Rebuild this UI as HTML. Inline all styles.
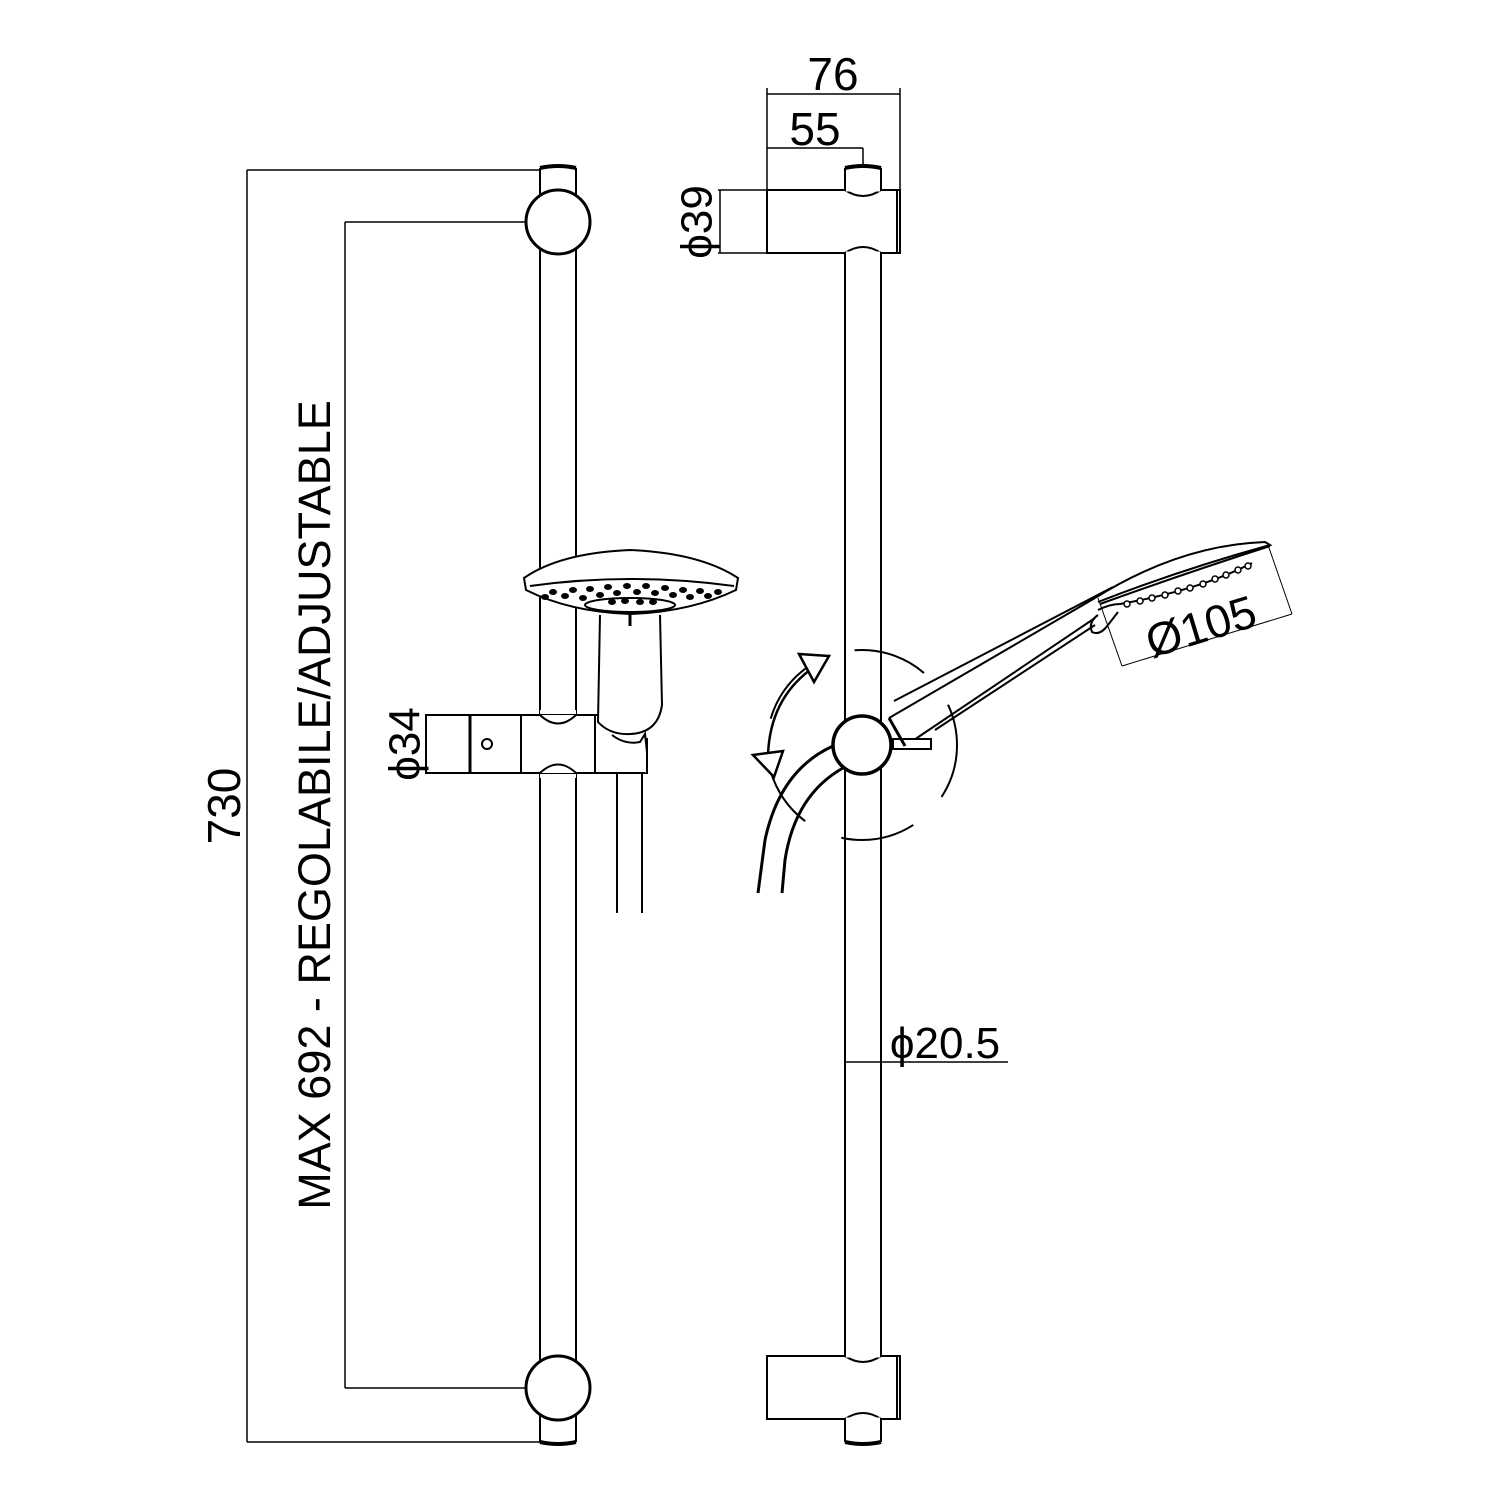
<!DOCTYPE html>
<html><head><meta charset="utf-8"><style>html,body{margin:0;padding:0;background:#fff}svg{display:block}</style></head><body>
<svg width="1500" height="1500" viewBox="0 0 1500 1500" xmlns="http://www.w3.org/2000/svg" fill="none" stroke="#000" stroke-width="2" font-family="Liberation Sans, DejaVu Sans, sans-serif">
<!-- LEFT VIEW -->
<line x1="247" y1="170" x2="540" y2="170" stroke-width="1.5"/>
<line x1="247" y1="1442" x2="540" y2="1442" stroke-width="1.5"/>
<line x1="247" y1="170" x2="247" y2="1442" stroke-width="1.5"/>
<text x="228" y="806" font-size="46" fill="#000" stroke="none" text-anchor="middle" transform="rotate(-90 228 806)" dominant-baseline="middle">730</text>
<line x1="345" y1="222" x2="526" y2="222" stroke-width="1.5"/>
<line x1="345" y1="1388" x2="526" y2="1388" stroke-width="1.5"/>
<line x1="345" y1="222" x2="345" y2="1388" stroke-width="1.5"/>
<text x="318" y="805" font-size="45" fill="#000" stroke="none" text-anchor="middle" transform="rotate(-90 318 805)" dominant-baseline="middle">MAX 692 - REGOLABILE/ADJUSTABLE</text>
<line x1="540" y1="168" x2="540" y2="1442"/>
<line x1="576" y1="168" x2="576" y2="1442"/>
<path d="M540 168 Q558 164 576 168" stroke-width="4"/>
<path d="M540 1442 Q558 1446 576 1442" stroke-width="4"/>
<circle cx="558" cy="222" r="32" fill="#fff" stroke-width="3"/>
<circle cx="558" cy="1388" r="32" fill="#fff" stroke-width="3"/>
<rect x="426" y="715" width="221" height="58" fill="#fff"/>
<line x1="470" y1="715" x2="470" y2="773" stroke-width="3"/>
<line x1="521" y1="715" x2="521" y2="773"/>
<line x1="595" y1="715" x2="595" y2="773"/>
<path d="M540 715 Q558 732 576 715" fill="#fff"/>
<path d="M540 773 Q558 756 576 773" fill="#fff"/>
<line x1="540" y1="712" x2="576" y2="712" stroke="#fff" stroke-width="4"/>
<line x1="540" y1="776" x2="576" y2="776" stroke="#fff" stroke-width="4"/>
<circle cx="487" cy="744" r="5"/>
<line x1="647" y1="715" x2="647" y2="773" stroke="#fff" stroke-width="3"/>
<line x1="647" y1="738" x2="647" y2="773"/>
<line x1="426" y1="715" x2="426" y2="773" stroke-width="1.5"/>
<text x="408" y="744" font-size="44" fill="#000" stroke="none" text-anchor="middle" transform="rotate(-90 408 744)" dominant-baseline="middle">ϕ34</text>
<line x1="617" y1="773" x2="617" y2="913"/>
<line x1="642" y1="773" x2="642" y2="913"/>
<path d="M600 615 L598 722 Q610 735 630 734 Q658 733 662 705 L660 615" fill="#fff"/>
<path d="M612 735 Q625 745 640 742 L645 734 L647 752" />
<path d="M524 578 Q560 553 630 550 Q700 553 738 578 L736 590 Q690 612 630 614 Q570 612 526 590 Z" fill="#fff"/>
<path d="M530 586 Q630 572 734 586"/>
<ellipse cx="630" cy="605" rx="45" ry="7"/>
<g fill="#000" stroke="none">
<ellipse cx="553" cy="592" rx="4" ry="3"/><ellipse cx="565" cy="596" rx="4" ry="3"/><ellipse cx="573" cy="590" rx="4" ry="3"/><ellipse cx="583" cy="598" rx="4" ry="3"/><ellipse cx="590" cy="589" rx="4" ry="3"/><ellipse cx="600" cy="595" rx="4" ry="3"/><ellipse cx="608" cy="587" rx="4" ry="3"/><ellipse cx="617" cy="593" rx="4" ry="3"/><ellipse cx="627" cy="586" rx="4" ry="3"/><ellipse cx="637" cy="592" rx="4" ry="3"/><ellipse cx="646" cy="586" rx="4" ry="3"/><ellipse cx="655" cy="593" rx="4" ry="3"/><ellipse cx="665" cy="588" rx="4" ry="3"/><ellipse cx="673" cy="595" rx="4" ry="3"/><ellipse cx="683" cy="590" rx="4" ry="3"/><ellipse cx="690" cy="597" rx="4" ry="3"/><ellipse cx="700" cy="591" rx="4" ry="3"/><ellipse cx="708" cy="596" rx="4" ry="3"/><ellipse cx="718" cy="592" rx="4" ry="3"/><ellipse cx="545" cy="597" rx="4" ry="3"/>
<ellipse cx="612" cy="602" rx="4" ry="3"/><ellipse cx="625" cy="601" rx="4" ry="3"/><ellipse cx="640" cy="602" rx="4" ry="3"/><ellipse cx="653" cy="602" rx="4" ry="3"/>
</g>
<line x1="630" y1="614" x2="630" y2="626" stroke-width="3"/>

<!-- RIGHT VIEW -->
<line x1="767" y1="88" x2="767" y2="190" stroke-width="1.5"/>
<line x1="900" y1="88" x2="900" y2="190" stroke-width="1.5"/>
<line x1="767" y1="94" x2="900" y2="94" stroke-width="1.5"/>
<line x1="767" y1="148" x2="863" y2="148" stroke-width="1.5"/>
<line x1="863" y1="148" x2="863" y2="168" stroke-width="1.5"/>
<text x="833" y="90" font-size="46" fill="#000" stroke="none" text-anchor="middle">76</text>
<text x="815" y="145" font-size="46" fill="#000" stroke="none" text-anchor="middle">55</text>
<line x1="718" y1="190" x2="767" y2="190" stroke-width="1.5"/>
<line x1="718" y1="253" x2="767" y2="253" stroke-width="1.5"/>
<line x1="720" y1="190" x2="720" y2="253" stroke-width="1.5"/>
<text x="700" y="222" font-size="44" fill="#000" stroke="none" text-anchor="middle" transform="rotate(-90 700 222)" dominant-baseline="middle">ϕ39</text>
<line x1="845" y1="168" x2="845" y2="1442"/>
<line x1="881" y1="168" x2="881" y2="1442"/>
<path d="M845 168 Q863 164 881 168" stroke-width="4"/>
<path d="M845 1442 Q863 1446 881 1442" stroke-width="4"/>
<rect x="767" y="190" width="133" height="63" fill="#fff"/>
<line x1="897" y1="190" x2="897" y2="253"/>
<path d="M845 190 Q863 202 881 190" />
<path d="M845 253 Q863 241 881 253" />
<line x1="846" y1="190" x2="880" y2="190" stroke="#fff" stroke-width="3"/>
<line x1="846" y1="253" x2="880" y2="253" stroke="#fff" stroke-width="3"/>
<rect x="767" y="1356" width="133" height="63" fill="#fff"/>
<line x1="897" y1="1356" x2="897" y2="1419"/>
<path d="M845 1356 Q863 1368 881 1356" />
<path d="M845 1419 Q863 1407 881 1419" />
<line x1="846" y1="1356" x2="880" y2="1356" stroke="#fff" stroke-width="3"/>
<line x1="846" y1="1419" x2="880" y2="1419" stroke="#fff" stroke-width="3"/>
<line x1="845" y1="1062" x2="1008" y2="1062" stroke-width="1.5"/>
<text x="945" y="1058" font-size="44" fill="#000" stroke="none" text-anchor="middle">ϕ20.5</text>
<circle cx="862" cy="745" r="95" stroke-width="2" stroke-dasharray="75 40" stroke-dashoffset="20"/>
<path d="M810 670 Q770 700 768 755" stroke-width="2.5"/>
<polygon points="799,654 829,656 814,682" fill="#fff" stroke-width="2.5"/>
<polygon points="753,755 783,751 774,777" fill="#fff" stroke-width="2.5"/>
<path d="M833 746 Q780 770 765 840 L758 893" stroke-width="3" fill="none"/>
<path d="M843 768 Q795 795 785 860 L782 893" stroke-width="3" fill="none"/>
<line x1="894" y1="701" x2="1113" y2="587"/>
<line x1="889" y1="718" x2="1095" y2="598"/>
<line x1="905" y1="746" x2="1095" y2="618"/>
<line x1="935" y1="730" x2="1095" y2="625"/>
<rect x="893" y="739" width="38" height="10" fill="#fff"/>
<line x1="889" y1="718" x2="905" y2="746" stroke-width="3"/>
<circle cx="862" cy="745" r="29" fill="#fff" stroke-width="3.5"/>
<path d="M1095 598 Q1180 545 1265 542 L1270 545 Q1180 570 1098 602"/>
<path d="M1100 604 Q1180 575 1270 546"/>
<path d="M1098 610 Q1110 604 1120 604 Q1200 590 1252 563"/>
<path d="M1098 615 Q1088 622 1092 632 Q1100 636 1108 625 L1118 612"/>
<g fill="#fff" stroke-width="1.5">
<circle cx="1127" cy="604" r="3"/><circle cx="1140" cy="601" r="3"/><circle cx="1152" cy="598" r="3"/><circle cx="1165" cy="595" r="3"/><circle cx="1178" cy="591" r="3"/><circle cx="1190" cy="588" r="3"/><circle cx="1203" cy="584" r="3"/><circle cx="1215" cy="579" r="3"/><circle cx="1226" cy="575" r="3"/><circle cx="1238" cy="570" r="3"/><circle cx="1248" cy="566" r="3"/>
</g>
<line x1="1098" y1="598" x2="1122" y2="666" stroke-width="1"/>
<line x1="1268" y1="545" x2="1292" y2="614" stroke-width="1"/>
<line x1="1122" y1="666" x2="1292" y2="614" stroke-width="1"/>
<text x="1202" y="630" font-size="46" fill="#000" stroke="none" text-anchor="middle" transform="rotate(-17 1202 630)" dominant-baseline="middle">Ø105</text>
</svg>
</body></html>
